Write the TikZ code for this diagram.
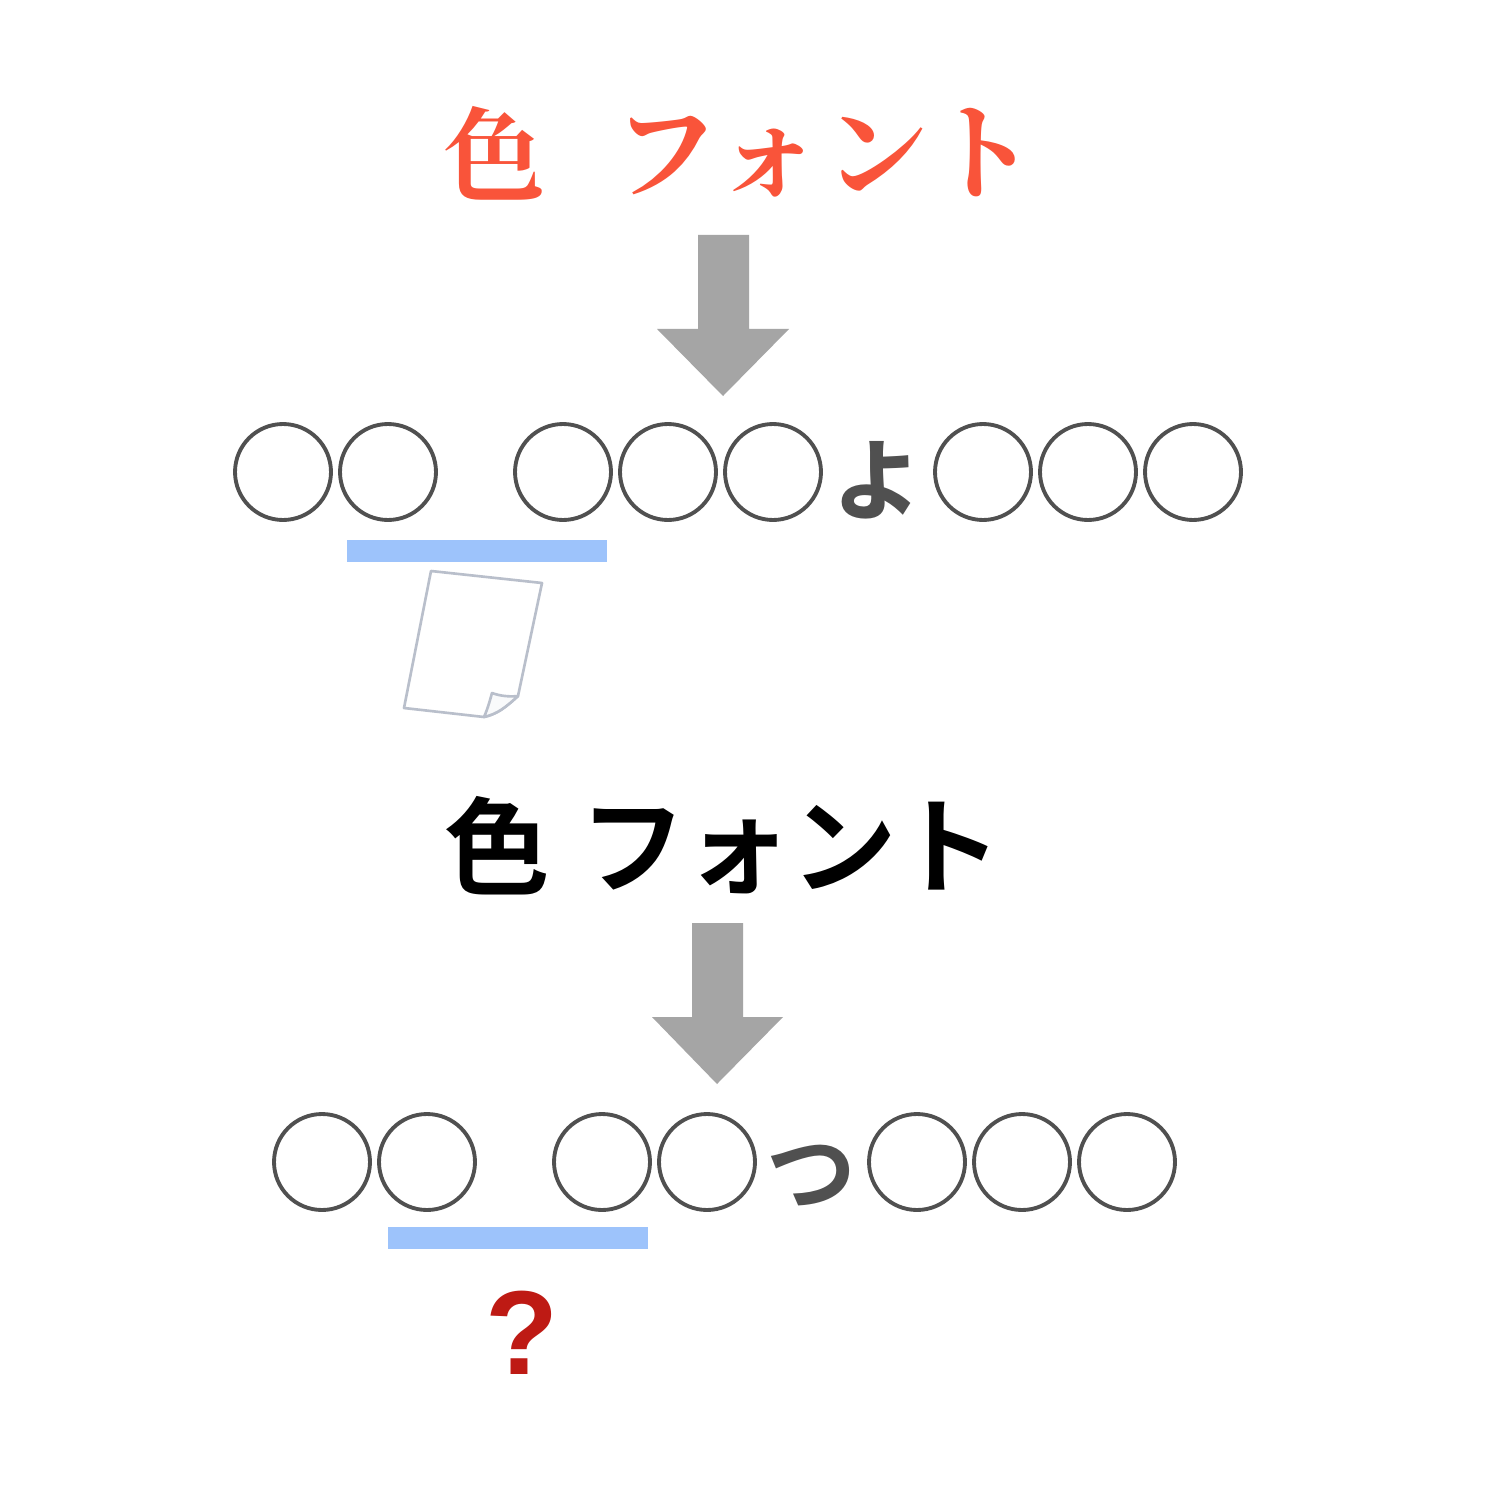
\documentclass[tikz,border=0pt]{standalone}
\usepackage{fontspec}
\newfontfamily\cjk{Noto Sans CJK JP}[BoldFont={* Bold}]
\newfontfamily\cjkserif{Noto Serif CJK JP}[BoldFont={* Bold}]
\definecolor{redt}{HTML}{F9543A}
\definecolor{arrowc}{HTML}{A5A5A5}
\definecolor{circc}{HTML}{505050}
\definecolor{barc}{HTML}{9DC3FB}
\definecolor{paperc}{HTML}{B9BFCB}
\definecolor{qc}{HTML}{BE1A14}
\tikzset{
 x=0.02cm,y=-0.02cm,
 ring/.style={circle,draw=circc,line width=2.2pt,minimum size=1.92cm,inner sep=0pt,outer sep=0pt},
 bigarrow/.style={fill=arrowc,draw=none},
 barx/.style={fill=barc,draw=none},
 lab/.style={inner sep=0pt,outer sep=0pt,anchor=center},
}
\begin{document}
\begin{tikzpicture}
\useasboundingbox (0,0) rectangle (1500,1500);
\fill[white] (0,0) rectangle (1500,1500);
% top title
\node[lab,text=redt,font=\cjkserif\fontsize{58}{58}\selectfont\bfseries] (t1) at (494,153) {色};
\node[lab,text=redt,font=\cjkserif\fontsize{60}{60}\selectfont\bfseries,text width=400pt,align=center] (t2) at (825,153) {\addfontfeature{LetterSpace=2}フォント};
% arrow 1
\fill[bigarrow] (698,235)--(749,235)--(749,329)--(789,329)--(723,396)--(657,329)--(698,329)--cycle;
% circles row 1
\foreach \n/\x in {a/283,b/388,c/563,d/668,e/773,f/983,g/1088,h/1193}
  \node[ring] (r1\n) at (\x,472) {};
\node[lab,text=circc,font=\cjk\fontsize{62}{62}\selectfont\bfseries] (yo) at (877,480) {ょ};
\fill[barx] (347,540) rectangle (607,562);
% paper
\draw[paperc,line width=1.5pt,fill=white,line join=round] (431,571)--(542,583)--(518,696) .. controls (505,708) and (497,714) .. (484,717)--(404,708)--cycle;
\draw[paperc,line width=1.5pt,fill=white!92!paperc,line join=round] (484,717) .. controls (488,708) and (490,700) .. (492,693) .. controls (500,696) and (510,697) .. (518,696) .. controls (505,708) and (497,714) .. (484,717)--cycle;
% middle title
\node[lab,text=black,font=\cjk\fontsize{60}{60}\selectfont\bfseries] (m1) at (497,846) {色};
\node[lab,text=black,font=\cjk\fontsize{60}{60}\selectfont\bfseries] (m2) at (791,848) {フォント};
% arrow 2
\fill[bigarrow] (692,923)--(743,923)--(743,1017)--(783,1017)--(717,1084)--(652,1017)--(692,1017)--cycle;
% circles row 2
\foreach \n/\x in {a/322,b/427,c/602,d/707,e/917,f/1022,g/1127}
  \node[ring] (r2\n) at (\x,1162) {};
\node[lab,text=circc,font=\cjk\fontsize{51}{51}\selectfont\bfseries] (tsu) at (811,1176) {つ};
\fill[barx] (388,1227) rectangle (648,1249);
\node[lab,text=qc,font=\fontspec{Liberation Sans}\fontsize{68}{68}\selectfont\bfseries] (q) at (522,1333) {?};
\end{tikzpicture}
\end{document}
